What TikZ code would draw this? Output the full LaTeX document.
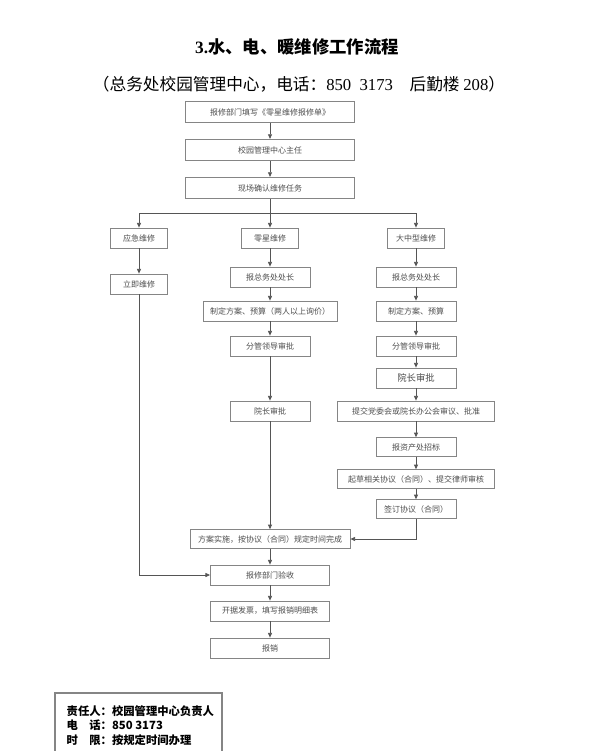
\documentclass[tikz,border=0pt]{standalone}
\usepackage{fontspec}
\usepackage{xcolor}
\usepackage{tikz}
\usetikzlibrary{arrows.meta,positioning}
\newfontfamily\cjk{Noto Sans CJK SC}
\newfontfamily\serifnum{Liberation Serif}
\definecolor{boxline}{HTML}{858585}
\definecolor{boxtext}{HTML}{4D4D4D}
\definecolor{linkgray}{HTML}{555555}

\begin{document}
\begin{tikzpicture}[x=0.75pt, y=-0.75pt, >={Triangle[length=3.5pt,width=3pt]},
    box/.style={draw=boxline, line width=0.6pt, text=boxtext, font=\cjk\fontsize{6}{7}\selectfont, minimum height=15pt, inner sep=1pt},
    link/.style={->, draw=linkgray, line width=0.6pt}]
    \useasboundingbox (0,0) rectangle (590,751);

    % title
    \node (TT) at (297,47) {\fontsize{13}{15}\selectfont\bfseries\serifnum 3.\cjk 水、电、暖维修工作流程};
    \node (ST) at (299,84) {\fontsize{12.5}{14}\selectfont\cjk （总务处校园管理中心，电话：{\serifnum 850\ \ 3173}\quad 后勤楼 {\serifnum 208}）};

    % main column
    \node[box, minimum width=126.75pt, minimum height=16pt] (B1) at (270,112) {报修部门填写《零星维修报修单》};
    \node[box, minimum width=126.75pt, minimum height=16pt] (B2) at (270,150) {校园管理中心主任};
    \node[box, minimum width=126.75pt, minimum height=16pt] (B3) at (270,188) {现场确认维修任务};
    \coordinate (SP) at (270,213);

    \node[box, minimum width=42.75pt] (YJ) at (139,238) {应急维修};
    \node[box, minimum width=42.75pt] (ZX) at (270,238) {零星维修};
    \node[box, minimum width=42.75pt] (DZ) at (416,238) {大中型维修};
    \node[box, minimum width=42.75pt] (LJ) at (139,284) {立即维修};

    % small repairs
    \node[box, minimum width=60pt] (Z1) at (270,277) {报总务处处长};
    \node[box, minimum width=100.5pt] (Z2) at (270,311) {制定方案、预算（两人以上询价）};
    \node[box, minimum width=60pt] (Z3) at (270,346) {分管领导审批};
    \node[box, minimum width=60pt] (Z4) at (270,411) {院长审批};

    % large repairs
    \node[box, minimum width=60pt] (D1) at (416,277) {报总务处处长};
    \node[box, minimum width=60pt] (D2) at (416,311) {制定方案、预算};
    \node[box, minimum width=60pt] (D3) at (416,346) {分管领导审批};
    \node[box, minimum width=60pt, font=\cjk\fontsize{7}{8}\selectfont] (D4) at (416,378) {院长审批};
    \node[box, minimum width=117.75pt] (D5) at (416,411) {提交党委会或院长办公会审议、批准};
    \node[box, minimum width=60pt, minimum height=14pt] (D6) at (416,447) {报资产处招标};
    \node[box, minimum width=117.75pt, minimum height=14pt] (D7) at (416,479) {起草相关协议（合同）、提交律师审核};
    \node[box, minimum width=60pt, minimum height=14pt] (D8) at (416,509) {签订协议（合同）};

    % end
    \node[box, minimum width=120pt, minimum height=14pt] (SS) at (270,539) {方案实施，按协议（合同）规定时间完成};
    \node[box, minimum width=89.25pt] (YS) at (270,575) {报修部门验收};
    \node[box, minimum width=89.25pt] (FP) at (270,611) {开据发票，填写报销明细表};
    \node[box, minimum width=89.25pt] (BX) at (270,648) {报销};

    \foreach \a/\b in {B1/B2, B2/B3, B3/ZX, YJ/LJ, ZX/Z1, Z1/Z2, Z2/Z3, Z3/Z4, Z4/SS,
        DZ/D1, D1/D2, D2/D3, D3/D4, D4/D5, D5/D6, D6/D7, D7/D8, SS/YS, YS/FP, FP/BX}
        \draw[link] (\a) -- (\b);
    \draw[link] (SP) -| (YJ);
    \draw[link] (SP) -| (DZ);
    \draw[link] (LJ) |- (YS);
    \draw[link] (D8) |- (SS);

    % responsible box
    \draw[boxline, line width=0.8pt] (55,693) rectangle (222,780);
    \node[anchor=west, font=\cjk\bfseries\fontsize{8.5}{10}\selectfont] (R1) at (62,711) {责任人：校园管理中心负责人};
    \node[anchor=west, font=\cjk\bfseries\fontsize{8.5}{10}\selectfont] (R2) at (62,725) {电\hspace{1em}话：850 3173};
    \node[anchor=west, font=\cjk\bfseries\fontsize{8.5}{10}\selectfont] (R3) at (62,740) {时\hspace{1em}限：按规定时间办理};
\end{tikzpicture}
\end{document}
